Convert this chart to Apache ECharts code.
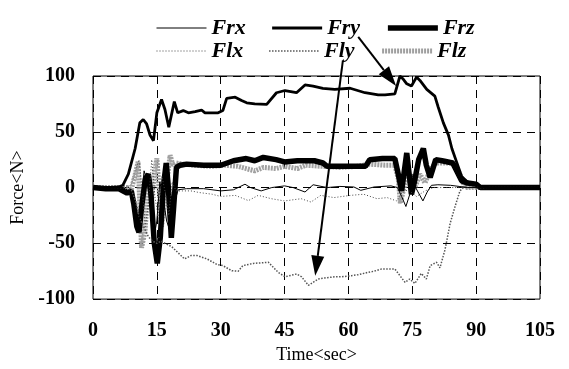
<!DOCTYPE html>
<html>
<head>
<meta charset="utf-8">
<script src="https://cdn.jsdelivr.net/npm/echarts@6/dist/echarts.min.js"></script>
<style>
  html, body { margin: 0; padding: 0; background: #fff; }
  #chart { width: 569px; height: 369px; }
</style>
</head>
<body>
<div id="chart"></div>
<script>
// time (sec) / force (N) pairs
const frx = [[0,0],[7,0],[8.5,-3],[9.5,-10],[10.5,-38],[11.2,-20],[12,15],[12.8,5],[13.6,-20],[14.3,-45],[15,-30],[15.7,5],[16.5,-10],[17.3,-30],[18,-38],[18.7,-15],[19.4,-10],[20,-2],[22,-1],[26,-1],[30,-3],[33,-2],[35.7,3],[37,0],[39.5,-3],[42,0],[45,1.5],[47,0],[49.8,-4],[51.7,2.5],[55,0],[58,1],[61.3,0.5],[62.9,-2.5],[66,0.5],[70,1.5],[71.5,0],[72.5,-8],[73.5,-17],[74.5,-5],[75.5,2],[76.5,-5],[77.5,-12],[78.5,-4],[79.5,2],[81,2.5],[84,2],[86,1],[88,0],[105,0]];
const fry = [[0,0],[3,0],[6,0.5],[7,2],[8.3,12],[9.9,35],[11,58],[11.8,61],[12.6,57],[13.4,47],[14.2,42],[15,67],[16.1,79],[16.9,70],[17.8,54],[19.1,77],[19.9,67],[21.2,69],[22.4,67],[24,68],[25.5,69.5],[26.3,67],[28,67],[29.4,67],[30.5,69],[31.4,80],[33.4,81],[34.9,78],[36.1,76],[38,75],[40.8,74.5],[43.1,85],[45.1,87],[47.8,85],[49.8,92],[51.7,91],[54,89],[56.8,88],[60.4,89],[63.9,85],[67,83],[68.6,83],[70.9,84],[72.1,100],[72.9,97],[73.7,93],[74.8,91],[76,99],[76.8,96],[78.4,88],[80.3,82],[81.1,72],[82.3,58],[83.5,47],[84.3,35],[85.4,23],[86.6,10],[88.2,4],[90.1,3],[91,1],[93,0],[105,0]];
const frz = [[0,0],[3,-1],[6,-1],[7,-3],[8,-5],[9,-3],[9.6,-15],[10.3,-35],[10.8,-40],[11.5,-15],[12.3,8],[13,12],[13.6,-5],[14.4,-50],[15.1,-68],[15.8,-45],[16.5,0],[17.2,22],[17.7,0],[18.4,-45],[18.9,-20],[19.6,18],[20.5,20],[22,21],[26,20],[30,20],[33,24],[36,26],[38,24],[40,27],[43,25],[45,23],[48,24],[52,24],[54,22],[55,19],[64,19],[65,25],[68,26],[70.9,26],[71.7,12],[72.5,-3],[73.7,31],[74.8,-6],[75.5,5],[76.5,25],[77.6,35],[78.3,20],[79.2,9],[80.5,25],[82,24],[84.5,22],[86.6,6],[88,4],[90,3],[91,0],[105,0]];
const flx = [[0,0],[8,0],[9,3],[10,15],[10.8,25],[11.5,0],[12.3,-35],[13,-15],[13.8,25],[14.6,-10],[15.3,-25],[16.2,10],[17,-5],[17.8,-25],[18.6,5],[19.5,-3],[21,-3],[23,-3],[25,-4.5],[28,-6],[30,-8],[33.4,-7],[36.5,-11.7],[38.8,-7],[41.9,-10],[45,-12],[48.9,-10],[51.2,-13],[53.5,-7],[56.6,-9],[60.5,-7],[63.6,-6],[66.7,-10],[69.1,-9],[71.3,-12],[72.5,-5],[74,-2],[76,-8],[78,-3],[80,0],[85,0],[105,0]];
const fly = [[0,0],[8,0],[9,-2],[10,-12],[11,-28],[12,-36],[13,-44],[14,-48],[15,-50],[16,-48],[16.9,-50],[18.5,-53],[20,-58.5],[21.5,-64],[23,-61],[24.5,-61],[26.8,-64],[29.1,-69],[30.5,-70],[32.6,-74.6],[34.1,-75],[35.2,-70],[37.7,-68],[41.2,-67],[43.5,-76],[45.1,-80],[47.8,-77.5],[49,-80],[50.6,-87.7],[52.9,-82],[54.5,-81],[56.8,-80],[58.5,-80],[60.7,-79],[62.5,-78],[64.6,-76],[66,-75],[67.8,-73],[70.9,-73],[71.5,-76],[73.3,-85],[74.4,-82],[75.6,-86],[77.1,-77],[78.3,-82],[79.2,-70],[80.7,-67],[81.5,-72],[82.7,-55.5],[83.9,-32],[85,-17.5],[86.2,-3],[87,0],[105,0]];
const flz = [[0,0],[8,0],[9,-2],[9.8,10],[10.6,23],[11.4,-54],[12.2,-40],[13,5],[13.8,-10],[14.5,15],[15,26],[15.6,-5],[16.1,-35],[16.8,-15],[17.5,10],[18.1,29],[18.8,20],[19.5,22],[21,21],[24,20],[28,19],[31,20],[34,19],[36,17],[38,15],[40,18],[43,17],[45,19],[48,17],[50,20],[54,19],[58,18],[62,19],[65,21],[68.6,20],[70.9,20],[71.7,8],[72.2,-14],[73.3,4],[74.4,12],[75.6,0],[76.8,12],[78,4],[79.2,16],[80.5,22],[85,22],[86.6,8],[87.4,0],[105,0]];

// annotation arrows: [fromTime, fromForce, toTime, toForce]
const arrows = [[62.3,135,71.2,91],[58.7,114,52.2,-79]];

const xTicks = { min: 0, max: 105, interval: 15 };
const yTicks = { min: -100, max: 100, interval: 50 };

const serif = '"Liberation Serif", "Times New Roman", serif';

// line looks, shared by series and legend samples
const styles = {
    Frx: { color: '#000', width: 1 },
    Fry: { color: '#000', width: 2.8 },
    Frz: { color: '#000', width: 5.5 },
    Flx: { color: '#444', width: 1, type: [1, 2] },
    Fly: { color: '#555', width: 1.5, type: [1.5, 1.5] },
    Flz: { color: '#a0a0a0', width: 5, type: [2, 1] }
};

const chart = echarts.init(document.getElementById('chart'));

function lineSeries(name, data, z) {
    return {
        name: name,
        type: 'line',
        data: data,
        showSymbol: false,
        symbol: 'none',
        lineStyle: styles[name],
        itemStyle: { color: styles[name].color },
        z: z,
        animation: false
    };
}

const legendText = {
    fontFamily: serif, fontSize: 22, fontWeight: 'bold', fontStyle: 'italic',
    color: '#000', width: 42
};
function legendRow(names, top) {
    return {
        data: names.map(n => ({ name: n, lineStyle: styles[n] })),
        top: top, left: 151, itemWidth: 50, itemHeight: 12, itemGap: 25,
        itemStyle: { color: 'rgba(0,0,0,0)', borderWidth: 0 },
        textStyle: legendText
    };
}

const option = {
    animation: false,
    legend: [
        legendRow(['Frx', 'Fry', 'Frz'], 12),
        legendRow(['Flx', 'Fly', 'Flz'], 35)
    ],
    grid: {
        left: 93, right: 29, top: 76, bottom: 64,
        show: true, borderColor: '#000', borderWidth: 1
    },
    xAxis: {
        type: 'value',
        min: xTicks.min, max: xTicks.max, interval: xTicks.interval,
        name: 'Time<sec>', nameLocation: 'middle', nameGap: 46,
        nameTextStyle: { fontFamily: serif, fontSize: 18, color: '#000' },
        axisLine: { show: false },
        axisTick: { show: false },
        axisLabel: { fontFamily: serif, fontSize: 20, fontWeight: 'bold', color: '#000', margin: 22 },
        splitLine: { lineStyle: { color: '#000', width: 1, type: [8, 6] } }
    },
    yAxis: {
        type: 'value',
        min: yTicks.min, max: yTicks.max, interval: yTicks.interval,
        name: 'Force<N>', nameLocation: 'middle', nameGap: 60,
        nameTextStyle: { fontFamily: serif, fontSize: 18, color: '#000' },
        axisLine: { show: false },
        axisTick: { show: false },
        axisLabel: { fontFamily: serif, fontSize: 20, fontWeight: 'bold', color: '#000', margin: 18 },
        splitLine: { lineStyle: { color: '#000', width: 1, type: [8, 6] } }
    },
    series: [
        lineSeries('Frx', frx, 6),
        lineSeries('Fry', fry, 5),
        lineSeries('Frz', frz, 3),
        lineSeries('Flx', flx, 4),
        lineSeries('Fly', fly, 4),
        lineSeries('Flz', flz, 2),
        {
            type: 'custom',
            clip: false,
            z: 10,
            data: arrows,
            encode: { x: [0, 2], y: [1, 3] },
            renderItem: function (params, api) {
                const p0 = api.coord([api.value(0), api.value(1)]);
                const p1 = api.coord([api.value(2), api.value(3)]);
                const dx = p1[0] - p0[0], dy = p1[1] - p0[1];
                const len = Math.sqrt(dx * dx + dy * dy);
                const ux = dx / len, uy = dy / len;
                const headL = 20, headW = 6.5;
                const bx = p1[0] - ux * headL, by = p1[1] - uy * headL;
                return {
                    type: 'group',
                    children: [
                        { type: 'line', shape: { x1: p0[0], y1: p0[1], x2: bx, y2: by }, style: { stroke: '#000', lineWidth: 2 } },
                        { type: 'polygon', shape: { points: [p1, [bx - uy * headW, by + ux * headW], [bx + uy * headW, by - ux * headW]] }, style: { fill: '#000' } }
                    ]
                };
            }
        }
    ]
};

chart.setOption(option);
window.addEventListener('resize', () => chart.resize());
</script>
</body>
</html>
